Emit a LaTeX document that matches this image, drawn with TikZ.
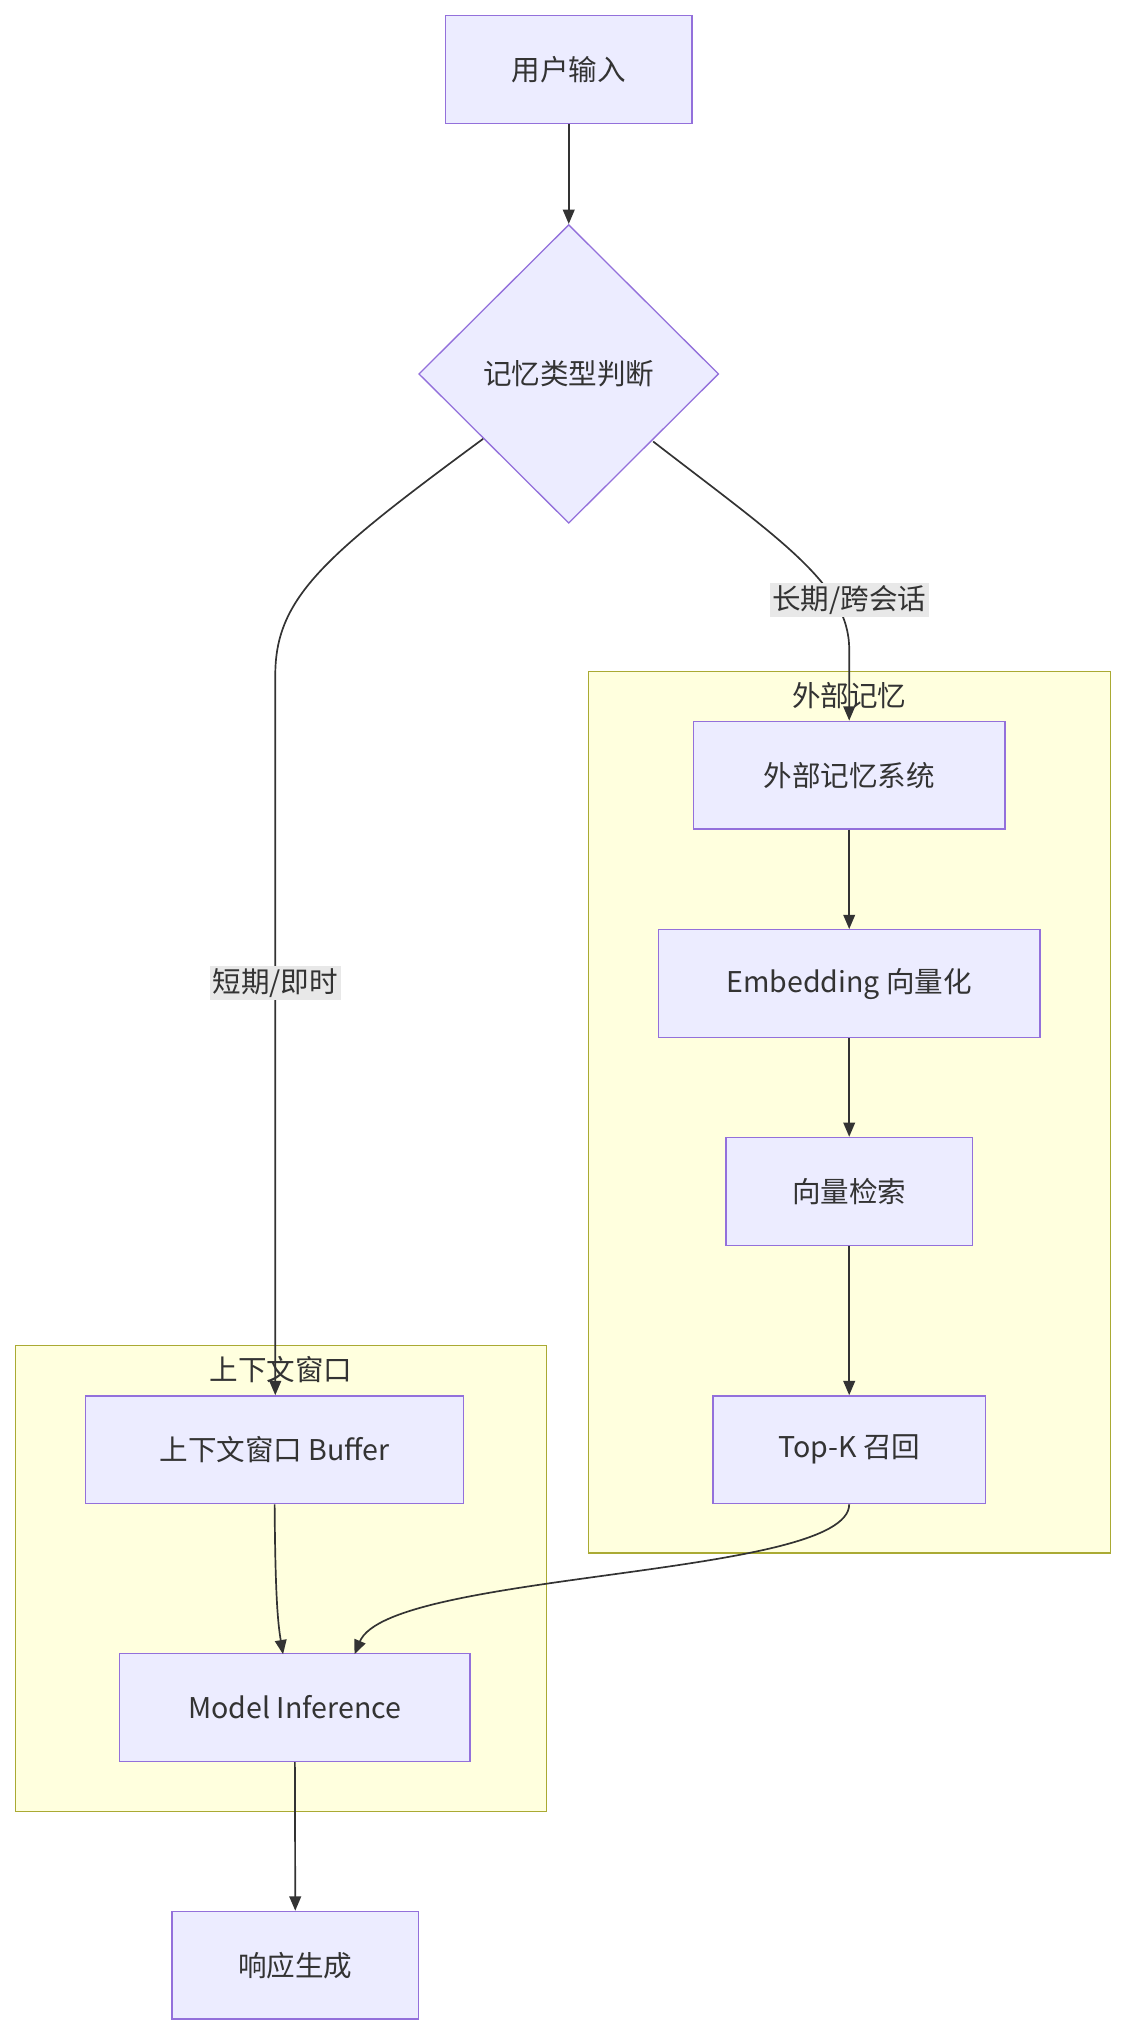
\documentclass[tikz,border=0pt]{standalone}
\usepackage{fontspec}
\setmainfont{Noto Sans CJK SC}
\usetikzlibrary{shapes.geometric,arrows.meta}
\definecolor{nf}{HTML}{ECECFF}
\definecolor{nb}{HTML}{9370DB}
\definecolor{cf}{HTML}{FFFFDE}
\definecolor{cb}{HTML}{AAAA33}
\definecolor{ed}{HTML}{333333}
\definecolor{lb}{HTML}{E8E8E8}
\begin{document}
\begin{tikzpicture}[x=1pt,y=-1pt,
  box/.style={draw=nb,fill=nf,line width=1pt,minimum height=83pt,inner sep=0pt,font=\fontsize{22}{26}\selectfont,text=ed},
  clus/.style={draw=cb,fill=cf,line width=1pt},
  ctitle/.style={font=\fontsize{22}{26}\selectfont,text=ed},
  e/.style={draw=ed,line width=1.3pt,-{Triangle[length=11pt,width=9pt]}},
  lab/.style={fill=lb,inner sep=2pt,font=\fontsize{22}{26}\selectfont,text=ed}]
\useasboundingbox (0,0) rectangle (868,1568);
\draw[clus] (453,517) rectangle (855,1196);
\node[ctitle] (t1) at (654,536) {外部记忆};
\draw[clus] (12,1036) rectangle (421,1395);
\node[ctitle] (t2) at (216.5,1055) {上下文窗口};
\node[box,minimum width=190pt] (in) at (438,53.5) {用户输入};
\node[diamond,draw=nb,fill=nf,line width=1pt,minimum width=231pt,minimum height=230pt,inner sep=0pt,font=\fontsize{22}{26}\selectfont,text=ed] (d) at (438,288) {记忆类型判断};
\node[box,minimum width=240pt] (ext) at (654,597) {外部记忆系统};
\node[box,minimum width=294pt] (emb) at (654,757.5) {Embedding 向量化};
\node[box,minimum width=190pt] (vs) at (654,917.5) {向量检索};
\node[box,minimum width=210pt] (tk) at (654,1116.5) {Top-K 召回};
\node[box,minimum width=291pt] (buf) at (211.5,1116.5) {上下文窗口 Buffer};
\node[box,minimum width=270pt] (mi) at (227,1315) {Model Inference};
\node[box,minimum width=190pt] (out) at (227.5,1513.5) {响应生成};
\draw[e] (in) -- (d);
\coordinate (a1) at (372,338);
\draw[e] (a1) .. controls (250,428) and (212,460) .. (212,520) -- (buf.north -| 212,0);
\node[lab] (l1) at (212,757) {短期/即时};
\coordinate (a2) at (503,340);
\draw[e] (a2) .. controls (600,415) and (654,450) .. (654,500) -- (ext.north);
\node[lab] (l2) at (654,462) {长期/跨会话};
\draw[e] (ext) -- (emb);
\draw[e] (emb) -- (vs);
\draw[e] (vs) -- (tk);
\draw[e] (buf.south) .. controls (212,1230) and (214,1250) .. (218,1274);
\draw[e] (tk.south) .. controls (654,1215) and (300,1210) .. (273,1274);
\draw[e] (mi) -- (out);
\end{tikzpicture}
\end{document}
